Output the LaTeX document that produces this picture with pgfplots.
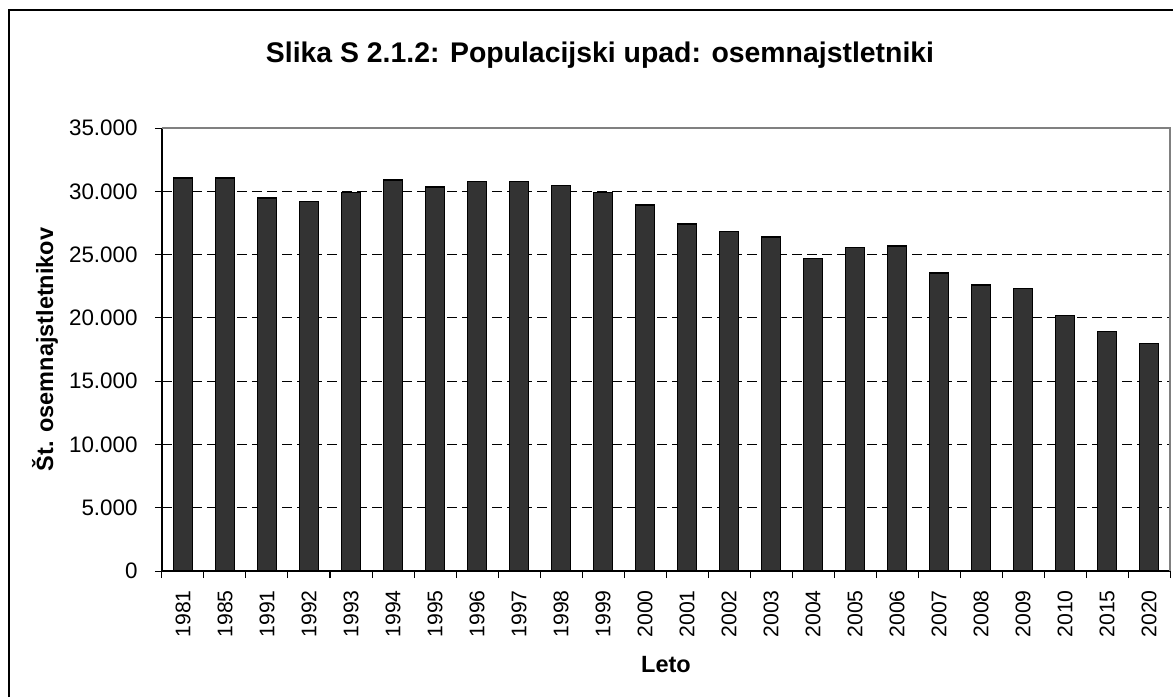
\documentclass[border=0pt]{standalone}
\usepackage{pgfplots}
\pgfplotsset{compat=1.18}
\usepackage{fontspec}
\setmainfont{Liberation Sans}
\definecolor{barfill}{HTML}{333333}
\definecolor{bordergray}{HTML}{808080}
\begin{document}
\begin{tikzpicture}
\useasboundingbox (0,0) rectangle (586.5pt,348.5pt);
\draw[line width=1pt] (4.5pt,0) -- (4.5pt,343.5pt) -- (586.5pt,343.5pt);
\node[font=\fontsize{14.2}{17}\selectfont\bfseries] at (300pt,321pt) {Slika S 2.1.2: Populacijski upad: osemnajstletniki};
\begin{axis}[
  at={(81pt,63pt)}, anchor=south west,
  scale only axis, width=504pt, height=221.5pt,
  ybar, bar width=9.5pt,
  xmin=-0.5, xmax=23.5, ymin=0, ymax=35000,
  axis x line*=bottom, axis y line*=left,
  axis line style={line width=0.6pt, black},
  xtick={0,...,23},
  xticklabels={1981,1985,1991,1992,1993,1994,1995,1996,1997,1998,1999,2000,2001,2002,2003,2004,2005,2006,2007,2008,2009,2010,2015,2020},
  x tick style={draw=none},
  extra x ticks={-0.5,0.5,...,23.5},
  extra x tick labels={},
  extra x tick style={x tick style={draw=black, line width=0.5pt}, tick align=outside, major tick length=3.5pt, xmajorgrids=false},
  ytick={0,5000,...,35000},
  y tick style={black, line width=0.5pt},
  tick align=outside, major tick length=3.5pt,
  ymajorgrids, grid style={black, dashed, line width=0.5pt, dash pattern=on 5pt off 2.5pt},
  xticklabel style={font=\fontsize{10.6}{13}\selectfont, inner sep=0pt, yshift=-6pt, rotate=90, anchor=east},
  yticklabel style={font=\fontsize{11.2}{13}\selectfont, inner sep=0pt, xshift=-8.5pt, anchor=east},
  /pgf/number format/.cd, assume math mode=true, 1000 sep={.},
  /pgfplots/.cd,
  scaled y ticks=false,
  xlabel={Leto}, ylabel={Št. osemnajstletnikov},
  xlabel style={font=\fontsize{11.75}{14}\selectfont\bfseries, at={(axis description cs:0.5,-0.2122)}, anchor=center},
  ylabel style={font=\fontsize{11.75}{14}\selectfont\bfseries, at={(axis description cs:-0.1161,0.5)}, anchor=center},
  clip=false,
]
\addplot[fill=barfill, draw=black, line width=0.75pt] coordinates {
(0,31050) (1,31050) (2,29480) (3,29210) (4,29920) (5,30900) (6,30350) (7,30760)
(8,30770) (9,30470) (10,29920) (11,28930) (12,27400) (13,26820) (14,26400) (15,24690)
(16,25560) (17,25690) (18,23560) (19,22590) (20,22320) (21,20170) (22,18910) (23,17960)
};
\draw[bordergray, line width=0.8pt] (rel axis cs:0,1) -- (rel axis cs:1,1) -- (rel axis cs:1,0);
\end{axis}
\end{tikzpicture}
\end{document}
